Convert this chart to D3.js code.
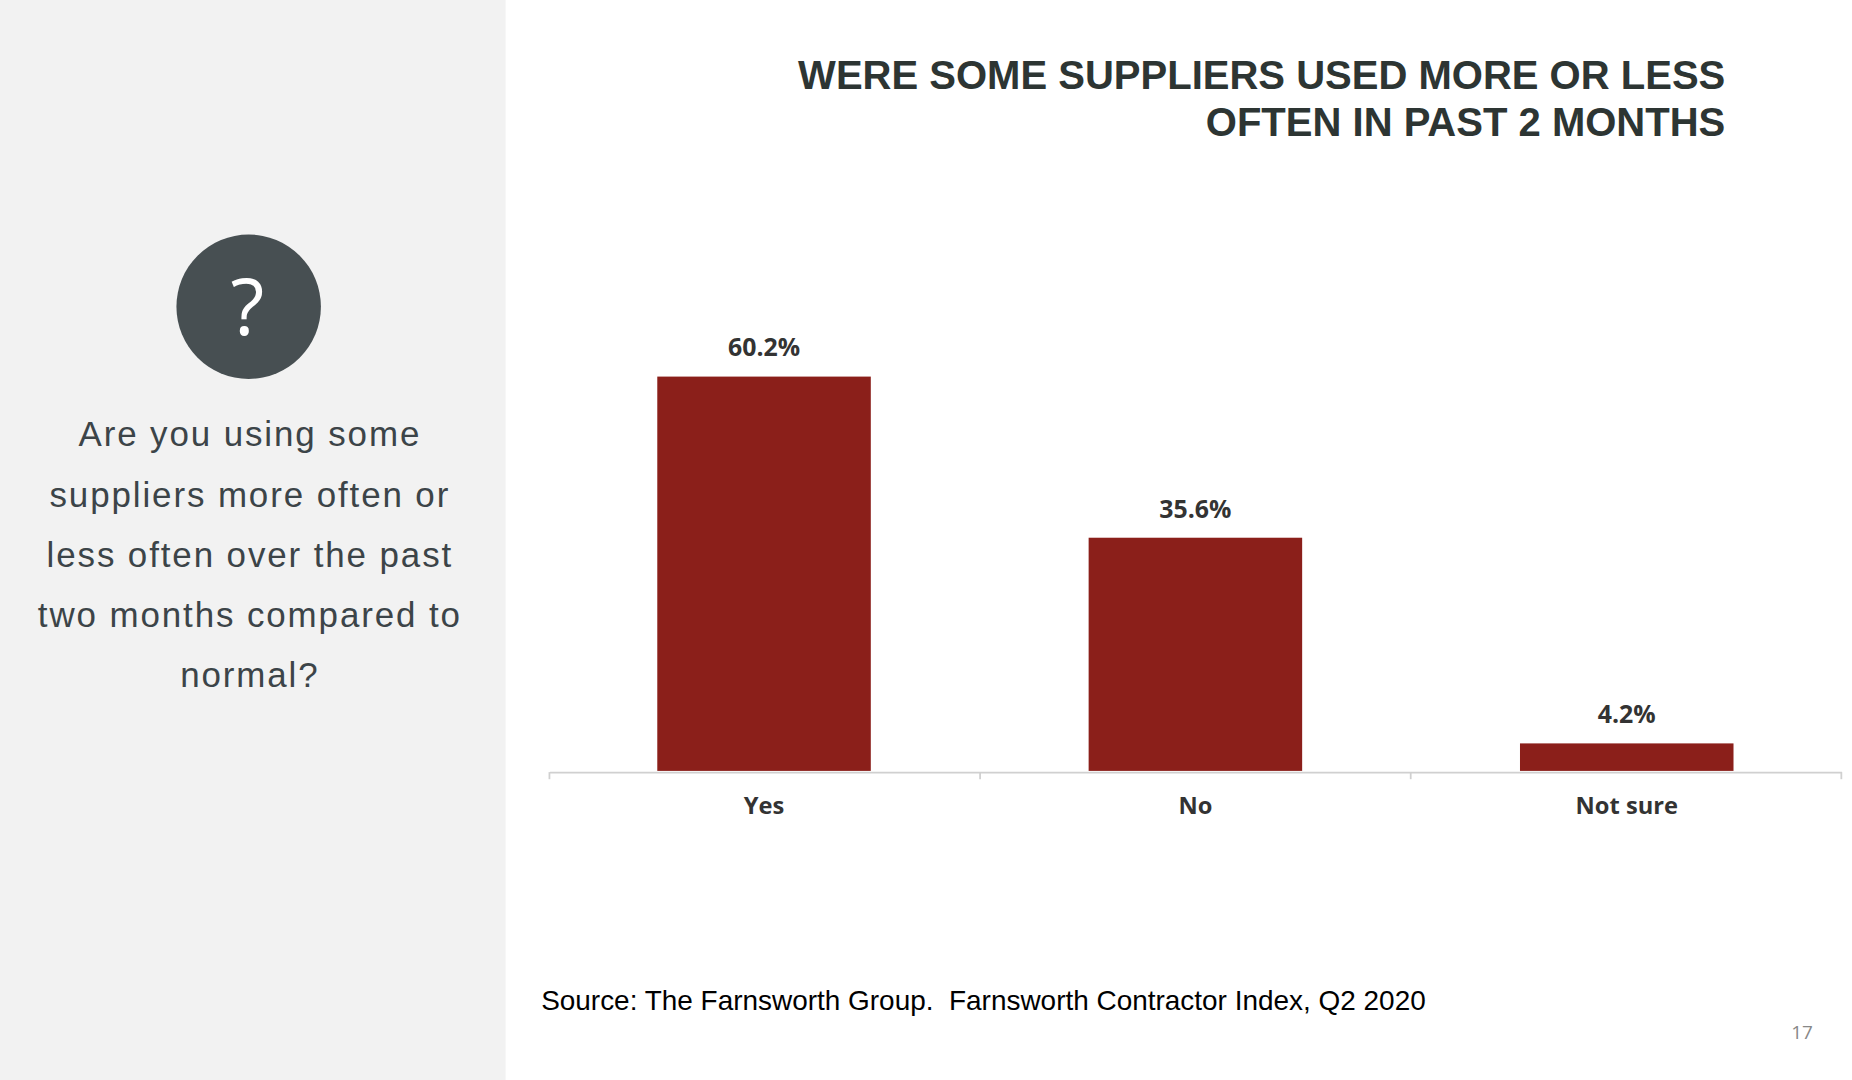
<!DOCTYPE html>
<html><head><meta charset="utf-8">
<script src="https://cdn.jsdelivr.net/npm/d3@7"></script>
<style>body{margin:0;background:#fff}svg{display:block}</style>
</head><body>
<script>
const categories = ["Yes", "No", "Not sure"];
const values = [60.2, 35.6, 4.2];
const titleLines = ["WERE SOME SUPPLIERS USED MORE OR LESS", "OFTEN IN PAST 2 MONTHS"];
const questionLines = ["Are you using some", "suppliers more often or", "less often over the past", "two months compared to", "normal?"];

const svg = d3.select("body").append("svg")
    .attr("width", 1852).attr("height", 1080)
    .attr("viewBox", "0 0 1564 912");

svg.append("rect").attr("width", 427).attr("height", 912).attr("fill", "#f2f2f2");
svg.append("circle").attr("cx", 210).attr("cy", 259).attr("r", 61).attr("fill", "#474f52");
svg.append("text").text("?").attr("x", 209).attr("y", 283).attr("text-anchor", "middle")
    .attr("fill", "#fff").attr("font-family", "Open Sans").attr("font-size", 66);

svg.selectAll("text.q").data(questionLines).enter().append("text")
    .attr("class", "q").text(d => d)
    .attr("x", 211).attr("y", (d, i) => 377 + i * 50.8)
    .attr("text-anchor", "middle").attr("fill", "#3c4448")
    .style("font-family", "'Liberation Sans', Arial, sans-serif").attr("font-size", 29.5).attr("letter-spacing", 1.6);

svg.selectAll("text.t").data(titleLines).enter().append("text")
    .attr("class", "t").text(d => d)
    .attr("x", 1457).attr("y", (d, i) => 75 + i * 40)
    .attr("text-anchor", "end").attr("fill", "#2d3533")
    .style("font-family", "'Liberation Sans', Arial, sans-serif").attr("font-weight", "bold").attr("font-size", 33.8);

const x = d3.scaleBand().domain(categories).range([464, 1555]).paddingInner(0.505).paddingOuter(0.25);
const y = d3.scaleLinear().domain([0, 60.2]).range([651, 318]);

svg.selectAll("rect.bar").data(values).enter().append("rect")
    .attr("x", (d, i) => x(categories[i])).attr("width", x.bandwidth())
    .attr("y", d => y(d)).attr("height", d => y(0) - y(d)).attr("fill", "#8b1f1a");

svg.selectAll("text.v").data(values).enter().append("text")
    .text(d => d.toFixed(1) + "%")
    .attr("x", (d, i) => x(categories[i]) + x.bandwidth() / 2).attr("y", d => y(d) - 17)
    .attr("text-anchor", "middle").attr("fill", "#333")
    .attr("font-family", "Open Sans").attr("font-weight", "bold").attr("font-size", 21);

const axis = svg.append("g").attr("transform", "translate(0,652)")
    .call(d3.axisBottom(x).tickSize(0).tickPadding(21));
axis.select(".domain").attr("stroke", "#d0d0d0").attr("stroke-width", 1.5);
axis.selectAll("text").attr("font-family", "Open Sans").attr("font-weight", "bold")
    .attr("font-size", 20).attr("fill", "#333");
const step = (1555 - 464) / 3;
axis.selectAll("line.sep").data(d3.range(4)).enter().append("line")
    .attr("x1", d => 464 + d * step).attr("x2", d => 464 + d * step)
    .attr("y1", 0).attr("y2", 6).attr("stroke", "#d0d0d0").attr("stroke-width", 1.5);

svg.append("text").text("Source: The Farnsworth Group.  Farnsworth Contractor Index, Q2 2020")
    .attr("x", 457).attr("y", 853).style("font-family", "'Liberation Sans', Arial, sans-serif").attr("font-size", 23.6)
    .attr("fill", "#000").style("white-space", "pre");
svg.append("text").text("17").attr("x", 1531).attr("y", 877).attr("text-anchor", "end")
    .attr("font-family", "Open Sans").attr("font-size", 16).attr("fill", "#888");
</script>
</body></html>
